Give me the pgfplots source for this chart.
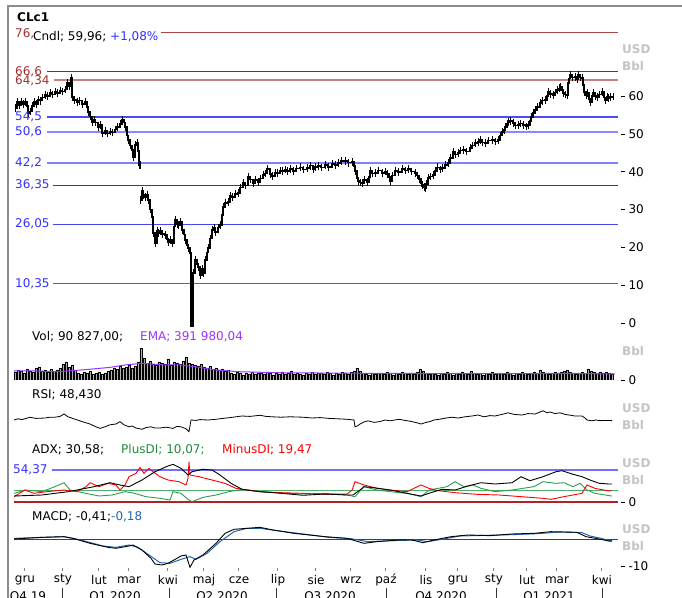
\documentclass[border=0pt]{standalone}
\usepackage{pgfplots}
\pgfplotsset{compat=1.18}
\usepackage{fontspec}
\setmainfont{DejaVu Sans}
\definecolor{dredtxt}{HTML}{A03030}
\definecolor{lineA}{HTML}{A84848}
\definecolor{lineB}{HTML}{9A2020}
\definecolor{lineC}{HTML}{C88080}
\definecolor{bl545}{HTML}{4C4CF2}
\definecolor{bl506}{HTML}{8888FF}
\definecolor{bl422}{HTML}{8080FF}
\definecolor{bl3635}{HTML}{2E2EE8}
\definecolor{bl2605}{HTML}{4646F4}
\definecolor{bl1035}{HTML}{5656F4}
\definecolor{bl5437}{HTML}{7070FF}
\definecolor{bluetxt}{HTML}{3030FF}
\definecolor{gl}{HTML}{C4C4C4}
\definecolor{purp}{HTML}{9933FF}
\definecolor{plusg}{HTML}{1E8C3C}
\definecolor{plusl}{HTML}{2A9E4E}
\definecolor{hgreen}{HTML}{4CAF6A}
\definecolor{zred}{HTML}{B22222}
\definecolor{macdb}{HTML}{2565AE}
\definecolor{frame}{HTML}{8C8C8C}
\newcommand{\fs}{\fontsize{12}{14}\selectfont}
\begin{document}
\begin{tikzpicture}[x=1pt,y=1pt,font=\fs]
\pgfplotsset{panel/.style={scale only axis, width=607pt, xmin=14, xmax=621,
  axis line style={draw=none}, xtick=\empty, ytick pos=right, yticklabel pos=right,
  tick align=outside, major tick length=4pt, tick style={black, line width=0.6pt},
  yticklabel style={font=\fs},
  /pgf/number format/assume math mode=true, anchor=south west},
  wick/.style={error bars/.cd, y dir=both, y fixed=1.0, error mark=none,
  error bar style={line width=0.6pt, black}}}
% ---------------- main price panel
\begin{axis}[panel, at={(14pt,270pt)}, height=305pt, ymin=-1.06, ymax=79.63, ytick={0,10,...,60}]
\addplot[lineA, line width=1pt] coordinates {(161,76.9) (618,76.9)};
\addplot[lineB, line width=1.2pt] coordinates {(47,66.6) (618,66.6)};
\addplot[lineC, line width=2pt] coordinates {(54,64.34) (618,64.34)};
\addplot[bl545, line width=1.2pt] coordinates {(47,54.5) (618,54.5)};
\addplot[bl506, line width=2pt] coordinates {(47,50.6) (618,50.6)};
\addplot[bl422, line width=2pt] coordinates {(47,42.2) (618,42.2)};
\addplot[bl3635, line width=1pt] coordinates {(53,36.35) (618,36.35)};
\addplot[bl2605, line width=1.2pt] coordinates {(53,26.05) (618,26.05)};
\addplot[bl1035, line width=1.2pt] coordinates {(53,10.35) (618,10.35)};
\addplot[black, line width=1.5pt, const plot, wick] coordinates {
(15,56.9) (17,58.4) (19,57.6) (21,58.6) (23,58.0) (25,58.4) (27,57.4) (28,55.6) (30,56.0) (32,57.4)
(34,58.6) (36,58.0) (38,59.1) (40,58.8) (42,59.6) (45,60.3) (47,60.0) (50,60.9) (52,60.5) (55,61.2)
(57,60.8) (60,61.5) (62,61.2) (65,61.8) (67,63.5) (69,62.7) (71,65.0) (72,59.8) (74,59.0) (77,58.4)
(79,58.8) (82,58.0) (85,58.6) (87,57.2) (88,55.8) (90,54.6) (92,53.2) (94,53.8) (95,53.0) (98,51.9)
(100,52.4) (102,50.3) (105,50.8) (107,50.1) (110,50.7) (112,50.4) (115,51.2) (117,51.9) (120,52.6)
(122,53.7) (124,53.0) (125,51.9) (127,49.6) (128,48.4) (130,46.9) (132,45.8) (133,43.9) (135,47.1)
(137,47.6) (138,45.5) (139,41.8) (140,41.8)};
\addplot[black, line width=1.5pt, const plot, wick] coordinates {
(140,32.5) (142,34.9) (143,33.8) (145,33.3) (147,34.0) (148,32.5) (150,30.0) (152,28.0) (153,23.8)
(155,21.2) (157,24.5) (158,23.8) (160,24.4) (162,23.6) (165,23.3) (167,22.2) (168,21.4) (170,22.0)
(172,21.2) (174,25.5) (175,27.3) (177,26.2) (178,25.9) (180,26.8) (182,24.6) (184,23.4) (185,22.0)
(187,20.6) (188,19.8) (190,18.5) (191,-1.0) (193,13.2) (195,16.7) (197,15.6) (198,14.8) (200,12.7)
(202,14.4) (203,13.2) (205,16.7) (207,18.6) (208,19.8) (210,22.4) (212,24.6) (214,25.2) (215,24.1)
(218,25.2) (220,25.9) (222,28.6) (223,30.7) (225,31.7) (228,32.0) (230,33.6) (232,33.3) (235,34.1)
(238,34.4) (240,35.8) (243,37.0) (245,36.4) (248,38.6) (250,38.0) (253,37.0) (255,37.8) (258,37.3)
(260,38.2) (263,39.2) (265,39.6) (267,40.7) (270,39.4) (272,38.9) (275,39.8) (277,39.7) (280,40.4)
(282,40.2) (285,40.6) (287,40.2) (290,40.7) (293,40.2) (296,40.9) (300,41.2) (303,40.6) (307,41.0)
(310,41.6) (313,40.7) (315,41.3) (318,41.5) (321,41.1) (325,41.8) (328,41.3) (332,42.1) (335,41.8)
(338,42.3) (341,42.8) (345,42.9) (348,42.4) (352,42.6) (354,41.5) (355,40.2) (357,38.4) (358,37.6)
(360,37.2) (362,37.0) (364,37.8) (367,37.3) (369,38.6) (370,40.2) (372,39.6) (375,39.7) (378,40.3)
(382,39.7) (385,40.1) (387,39.4) (389,38.6) (390,37.6) (392,39.0) (395,40.2) (398,40.0) (402,40.7)
(405,40.3) (408,40.7) (411,40.1) (415,39.7) (417,39.0) (419,38.1) (421,37.0) (422,36.5) (424,36.0)
(425,35.7) (426,36.8) (428,38.4) (430,38.8) (433,39.2) (435,40.2) (437,41.2) (440,40.6) (442,41.0)
(445,41.8) (448,42.3) (450,43.6) (453,45.2) (455,44.6) (458,45.0) (460,45.6) (463,45.8) (466,45.4)
(470,46.3) (472,46.9) (475,47.6) (478,47.9) (480,48.4) (482,47.8) (485,47.6) (488,48.3) (492,48.4)
(495,48.0) (498,48.4) (500,49.6) (502,50.5) (504,51.0) (505,51.9) (507,52.6) (508,53.2) (510,53.4)
(513,52.9) (515,52.2) (518,52.4) (520,52.8) (523,52.4) (526,52.0) (528,52.4) (530,53.4) (531,54.5)
(533,55.6) (535,56.4) (537,57.1) (540,58.2) (542,58.8) (545,59.0) (547,60.0) (548,61.1) (550,60.6)
(553,60.3) (555,61.0) (557,61.6) (559,62.1) (560,62.4) (562,61.6) (563,60.9) (565,60.4) (567,60.3)
(568,63.5) (569,64.7) (570,65.6) (572,65.0) (575,65.1) (577,64.6) (578,65.6) (580,64.9) (582,64.8)
(583,63.0) (584,61.1) (586,60.2) (587,60.9) (589,59.2) (590,58.5) (592,60.1) (593,60.9) (595,60.0)
(597,59.8) (599,60.4) (602,61.1) (604,59.6) (605,58.9) (607,59.8) (608,59.5) (610,59.8) (613,59.96)};
\end{axis}
% ---------------- volume panel
\begin{axis}[panel, at={(14pt,217pt)}, height=37pt, ymin=0, ymax=2405, ytick={0}]
\addplot[ybar, bar width=2.2pt, fill=gray!60, draw=black, line width=0.4pt] coordinates {
(15,520) (18,650) (21,585) (24,455) (27,715) (30,585) (33,520) (36,780) (39,845) (42,585)
(45,650) (48,520) (51,715) (54,585) (57,650) (60,780) (63,1040) (66,1170) (69,845) (72,975) (75,650)
(78,455) (81,390) (84,520) (87,455) (90,585) (93,390) (96,455) (99,520) (102,390) (105,455) (108,585)
(111,650) (114,780) (117,715) (120,910) (123,780) (126,845) (129,975) (132,780) (135,910)
(138,1170) (141,2080) (144,1430) (147,1105) (150,1235)
(153,1040) (156,975) (159,1170) (162,1105) (165,1040) (168,1365) (171,975) (174,1170) (177,1105) (180,1040)
(183,1235) (186,1495) (189,1105) (192,1040) (195,975) (198,910) (201,1040)
(204,845) (207,780) (210,910) (213,715) (216,780) (219,650) (222,715) (225,585) (228,650)
(231,455) (234,390) (237,520) (240,455) (243,325) (246,455) (249,390) (252,520) (255,390) (258,455)
(261,455) (264,390) (267,520) (270,455) (273,325) (276,455) (279,390) (282,520) (285,390) (288,455)
(291,585) (294,390) (297,455) (300,390) (303,325) (306,455) (309,390) (312,520) (315,390) (318,455)
(321,455) (324,390) (327,520) (330,455) (333,325) (336,455) (339,390) (342,520) (345,455) (348,390)
(351,520) (354,585) (357,780) (360,585) (363,455) (366,390) (369,325) (372,455) (375,390) (378,455)
(381,455) (384,390) (387,520) (390,455) (393,325) (396,455) (399,390) (402,520) (405,455) (408,390)
(411,455) (414,390) (417,520) (420,715) (423,585) (426,455) (429,390) (432,455) (435,390) (438,325)
(441,455) (444,390) (447,520) (450,455) (453,325) (456,455) (459,390) (462,520) (465,455) (468,390)
(471,585) (474,455) (477,390) (480,455) (483,325) (486,455) (489,390) (492,520) (495,390) (498,455)
(501,455) (504,390) (507,520) (510,455) (513,325) (516,455) (519,390) (522,520) (525,455) (528,390)
(531,455) (534,520) (537,455) (540,650) (543,520) (546,455) (549,390) (552,455) (555,520) (558,455)
(561,520) (564,585) (567,650) (570,520) (573,455) (576,390) (579,455) (582,520) (585,455) (588,715)
(591,585) (594,520) (597,455) (600,520) (603,455) (606,520) (609,455) (612,390)};
\addplot[purp, line width=1pt] coordinates {
(14,600) (35,590) (55,540) (75,620) (90,700) (110,820) (125,975) (142,1085) (164,975) (181,975)
(195,860) (216,650) (238,540) (280,470) (330,450) (380,430) (430,420) (480,410) (530,420) (570,430) (615,392)};
\end{axis}
% ---------------- RSI panel
\begin{axis}[panel, at={(14pt,157pt)}, height=40pt, ymin=0, ymax=100, ytick=\empty]
\addplot[black, line width=0.8pt] coordinates {
(14,50) (18,53) (22,51) (30,56.8) (36,54) (45,55) (50,57) (55,57) (60,59) (64,65) (68,58) (75,52)
(82,46) (90,40) (95,34) (100,29) (105,33) (110,38) (116,40) (120,45.8) (124,38) (129,33) (132,35)
(136,30) (142,26.8) (146,31) (151,33) (155,30) (160,30) (166,32) (173,29) (177,34) (181,33) (186,28)
(189,20.8) (191,50) (196,49) (200,51) (208,50) (216,51.8) (223,54) (230,56) (236,58) (242,60) (250,59)
(260,61.8) (266,59) (272,58) (281,57) (290,58) (303,57) (312,55) (320,56) (329,54) (338,53) (347,51.8)
(354,50) (355,33) (358,36) (360,40) (364,45) (368,48) (374,44) (380,46) (385,50) (390,48) (399,51.8)
(405,49) (410,47) (417,43) (421,40) (426,44) (430,46) (434,50) (440,52) (446,55) (452,56.8) (458,55)
(465,58) (472,60) (478,62.5) (484,58) (490,61) (495,60) (502,64) (508,68) (514,64) (522,62.5) (528,66)
(535,65) (539,69) (543,73) (547,68) (550,70) (555,66) (560,68) (565,64) (569,62.5) (575,60) (582,60)
(585,55) (587,50) (592,48) (596,50) (600,48.4) (606,49) (612,48.4)};
\end{axis}
% ---------------- ADX panel
\begin{axis}[panel, at={(14pt,92pt)}, height=47pt, ymin=-5.1, ymax=74.8, ytick={0}]
\addplot[bl5437, line width=1.4pt] coordinates {(52,54.37) (618,54.37)};
\addplot[hgreen, line width=1.2pt] coordinates {(14,20) (618,20)};
\addplot[zred, line width=2pt] coordinates {(14,0) (618,0)};
\addplot[plusl, line width=0.9pt] coordinates {
(14,14.7) (25,20.4) (42,17.6) (55,26.1) (64,32.8) (70,20.4) (86,14.7) (99,10.2) (112,11.9) (125,17.6)
(133,15.3) (146,9.1) (160,6.2) (170,3.4) (173,17.6) (181,14.7) (188,4.5) (192,0.6) (203,7.9) (216,11.9)
(229,17.6) (242,21.5) (260,17.6) (281,15.3) (303,13.6) (325,14.7) (347,11.9) (355,9.1) (364,26.1) (377,20.4)
(390,17.6) (407,14.7) (421,9.1) (429,20.4) (438,23.2) (447,26.1) (455,34.5) (464,26.1) (473,28.9) (481,23.2)
(495,17.6) (512,20.4) (534,26.1) (543,34.5) (556,31.7) (564,32.8) (573,26.1) (580,31.7) (587,20.4) (595,14.7) (612,10.07)};
\addplot[red, line width=0.9pt] coordinates {
(14,9.1) (25,20.4) (34,14.7) (47,17.6) (64,20.4) (77,17.6) (86,26.1) (90,32.8) (99,26.1) (108,31.7)
(116,28.9) (120,20.4) (125,28.9) (129,43) (136,48.7) (140,58.9) (144,48.7) (149,57.2) (153,51.5) (160,43)
(168,37.4) (179,34.5) (186,28.9) (188,40) (189,68.5) (190,45.9) (199,43) (212,37.4) (225,31.7) (236,23.2)
(247,20.4) (260,17.6) (281,15.9) (303,14.7) (325,13) (347,13.6) (352,20) (355,34.5) (364,28.9) (377,23.2)
(390,20.4) (407,17.6) (421,28.9) (429,23.2) (438,19.3) (455,15.9) (477,13) (499,11.9) (521,9.1) (543,6.2)
(551,4.5) (564,9.1) (582,14.7) (587,28.9) (595,23.2) (609,18.7) (612,19.47)};
\addplot[black, line width=0.9pt] coordinates {
(14,10.2) (42,11.9) (68,17.5) (94,26) (110,32.8) (120,28.9) (129,26) (142,37.4) (155,51.5) (168,61.2)
(173,64) (181,57.3) (188,45.9) (192,51.5) (203,55.6) (212,54.4) (220,45.9) (231,31.8) (242,21.6) (260,17.5)
(281,14.8) (303,11.4) (325,13.6) (347,11.9) (353,11.9) (360,20.4) (364,26) (373,24.5) (390,20.4) (407,14.8)
(421,10.2) (429,14.8) (442,21.6) (455,20.4) (468,27.2) (481,32.8) (495,30.6) (512,32.8) (521,43) (530,36.2)
(543,43) (556,51.5) (562,53.2) (573,47.1) (582,43) (590,37.4) (599,31.8) (609,30.6) (612,30.58)};
\end{axis}
% ---------------- MACD panel
\begin{axis}[panel, at={(14pt,27pt)}, height=50pt, ymin=-11.54, ymax=7.69, ytick={-10}]
\addplot[black!75, line width=1pt] coordinates {(14,0) (618,0)};
\addplot[macdb, line width=1pt] coordinates {
(14,0.64) (64,1.28) (81,0) (103,-2.31) (116,-2.82) (129,-1.92) (138,-2.82) (149,-5.77) (160,-8.72) (170,-8.97)
(181,-7.44) (190,-6.41) (196,-7.44) (207,-5.13) (220,-0.64) (234,3.2) (247,4.49) (260,4.49) (277,3.59) (303,2.31)
(329,1.03) (351,0.51) (368,-0.64) (390,-0.26) (417,0) (428,-0.64) (442,0.26) (460,1.54) (486,1.79) (512,2.05)
(538,2.44) (560,3.08) (582,2.82) (590,1.54) (601,0.64) (609,-0.18) (612,-0.18)};
\addplot[black, line width=0.9pt] coordinates {
(14,0.38) (42,1.03) (64,1.28) (73,0.64) (90,-1.28) (108,-2.82) (116,-3.2) (129,-2.31) (133,-1.92) (142,-3.85)
(151,-7.05) (155,-9.23) (162,-9.62) (168,-8.97) (177,-7.05) (181,-6.15) (186,-5.77) (190,-10.5) (194,-7.69) (203,-5.77)
(216,-1.28) (225,2.56) (234,4.1) (247,4.49) (260,4.87) (273,3.85) (294,2.56) (325,1.28) (347,0.64) (364,-1.28)
(377,-0.64) (399,0) (412,0) (423,-1.03) (434,0) (451,1.28) (468,1.92) (490,1.67) (512,2.31) (534,2.56)
(551,3.2) (577,2.95) (586,1.28) (599,0.38) (609,-0.41) (612,-0.41)};
\end{axis}
% ---------------- frame and texts (pixel coordinates, y down)
\begin{scope}[yshift=597pt, y=-1pt]
\draw[frame, line width=2pt] (8.3,598) -- (8.3,6) -- (683,6);
\begin{scope}[every node/.style={inner sep=0pt, anchor=west}]
\node[font=\fs\bfseries] at (17,17) {CLc1};
\node[text=dredtxt] at (15,33.5) {76,};
\node at (33,37) {Cndl; 59,96; \textcolor{bluetxt}{+1,08\%}};
\node[text=dredtxt] at (15,72) {66,6};
\node[text=dredtxt] at (15,80.5) {64,34};
\node[text=bluetxt] at (15,117) {54,5};
\node[text=bluetxt] at (15,132) {50,6};
\node[text=bluetxt] at (15,163) {42,2};
\node[text=bluetxt] at (15,185) {36,35};
\node[text=bluetxt] at (15,224) {26,05};
\node[text=bluetxt] at (15,284) {10,35};
\node at (32,337) {Vol; 90 827,00;};
\node[text=purp] at (140,337) {EMA; 391 980,04};
\node at (32,395) {RSI; 48,430};
\node at (32,450) {ADX; 30,58;};
\node[text=plusg] at (121,450) {PlusDI; 10,07;};
\node[text=red] at (222,450) {MinusDI; 19,47};
\node[text=bluetxt] at (13,470) {54,37};
\node at (32,517) {MACD; -0,41;};
\node[text=macdb] at (111,517) {-0,18};
\foreach \yy/\tt in {49/USD,66/Bbl,351/Bbl,408/USD,425/Bbl,463/USD,480/Bbl,529/USD,546/Bbl}
  \node[text=gl, font=\fs\bfseries] at (622,\yy) {\tt};
\end{scope}
\begin{scope}[every node/.style={inner sep=0pt, anchor=center}]
\foreach \xx/\mm in {25/gru,63/sty,99/lut,129/mar,168/kwi,204/maj,239/cze,278/lip,316/sie,351/wrz,386/paź,426/lis,458/gru,494/sty,527/lut,557/mar,602/kwi}{
  \node at (\xx,580) {\mm};
  \draw[gray, line width=0.8pt] (\xx-1,568) -- (\xx-1,570.5);
}
\foreach \xx in {62.5,169,276,386,496,602}
  \draw[black!80, line width=0.8pt] (\xx,588) -- (\xx,598);
\foreach \xx/\qq in {28/{Q4 19},115/{Q1 2020},222/{Q2 2020},330/{Q3 2020},441/{Q4 2020},549/{Q1 2021}}
  \node[anchor=north] at (\xx,591) {\qq};
\end{scope}
\end{scope}
\pgfresetboundingbox
\path[use as bounding box] (0,0) rectangle (682,597);
\end{tikzpicture}
\end{document}
